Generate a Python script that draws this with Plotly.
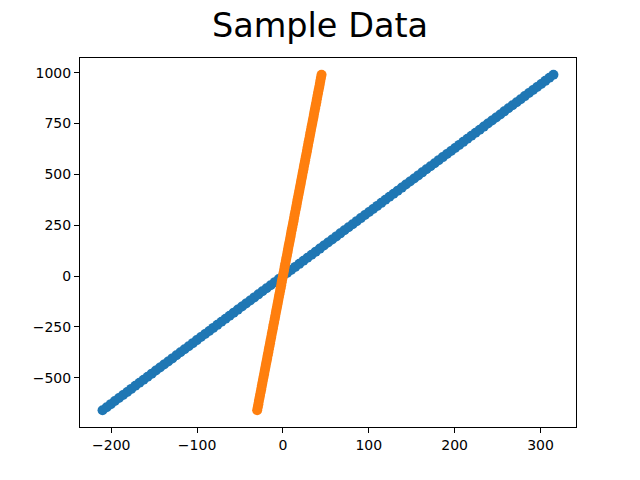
import plotly.graph_objects as go

y_values = [-660, -645, -630, -615, -600, -585, -570, -555, -540, -525, -510, -495,
            -480, -465, -450, -435, -420, -405, -390, -375, -360, -345, -330, -315,
            -300, -285, -270, -255, -240, -225, -210, -195, -180, -165, -150, -135,
            -120, -105, -90, -75, -60, -45, -30, -15, 0, 15, 30, 45, 60, 75, 90, 105,
            120, 135, 150, 165, 180, 195, 210, 225, 240, 255, 270, 285, 300, 315, 330,
            345, 360, 375, 390, 405, 420, 435, 450, 465, 480, 495, 510, 525, 540, 555,
            570, 585, 600, 615, 630, 645, 660, 675, 690, 705, 720, 735, 750, 765, 780,
            795, 810, 825, 840, 855, 870, 885, 900, 915, 930, 945, 960, 975, 990]

blue_x = [-210.1, -205.3, -200.5, -195.8, -191.0, -186.2, -181.4, -176.7, -171.9,
          -167.1, -162.3, -157.6, -152.8, -148.0, -143.2, -138.5, -133.7, -128.9,
          -124.1, -119.4, -114.6, -109.8, -105.0, -100.3, -95.5, -90.7, -85.9, -81.2,
          -76.4, -71.6, -66.8, -62.1, -57.3, -52.5, -47.7, -43.0, -38.2, -33.4, -28.6,
          -23.9, -19.1, -14.3, -9.5, -4.8, 0.0, 4.8, 9.5, 14.3, 19.1, 23.9, 28.6, 33.4,
          38.2, 43.0, 47.7, 52.5, 57.3, 62.1, 66.8, 71.6, 76.4, 81.2, 85.9, 90.7, 95.5,
          100.3, 105.0, 109.8, 114.6, 119.4, 124.1, 128.9, 133.7, 138.5, 143.2, 148.0,
          152.8, 157.6, 162.3, 167.1, 171.9, 176.7, 181.4, 186.2, 191.0, 195.8, 200.5,
          205.3, 210.1, 214.9, 219.6, 224.4, 229.2, 234.0, 238.7, 243.5, 248.3, 253.1,
          257.8, 262.6, 267.4, 272.2, 276.9, 281.7, 286.5, 291.3, 296.0, 300.8, 305.6,
          310.4, 315.1]

orange_x = [-30.0, -29.3, -28.6, -28.0, -27.3, -26.6, -25.9, -25.2, -24.5, -23.9,
            -23.2, -22.5, -21.8, -21.1, -20.5, -19.8, -19.1, -18.4, -17.7, -17.0,
            -16.4, -15.7, -15.0, -14.3, -13.6, -13.0, -12.3, -11.6, -10.9, -10.2,
            -9.5, -8.9, -8.2, -7.5, -6.8, -6.1, -5.5, -4.8, -4.1, -3.4, -2.7, -2.0,
            -1.4, -0.7, 0.0, 0.7, 1.4, 2.0, 2.7, 3.4, 4.1, 4.8, 5.5, 6.1, 6.8, 7.5,
            8.2, 8.9, 9.5, 10.2, 10.9, 11.6, 12.3, 13.0, 13.6, 14.3, 15.0, 15.7, 16.4,
            17.0, 17.7, 18.4, 19.1, 19.8, 20.5, 21.1, 21.8, 22.5, 23.2, 23.9, 24.5,
            25.2, 25.9, 26.6, 27.3, 28.0, 28.6, 29.3, 30.0, 30.7, 31.4, 32.0, 32.7,
            33.4, 34.1, 34.8, 35.5, 36.1, 36.8, 37.5, 38.2, 38.9, 39.5, 40.2, 40.9,
            41.6, 42.3, 43.0, 43.6, 44.3, 45.0]

x_ticks = [-200, -100, 0, 100, 200, 300]
y_ticks = [-500, -250, 0, 250, 500, 750, 1000]

all_x = blue_x + orange_x
xmin, xmax = min(all_x), max(all_x)
ymin, ymax = min(y_values), max(y_values)
xpad = 0.05 * (xmax - xmin)
ypad = 0.05 * (ymax - ymin)

fig = go.Figure()
fig.add_trace(go.Scatter(x=blue_x, y=y_values, mode="markers",
                         marker=dict(color="#1f77b4", size=10, line=dict(width=0)),
                         showlegend=False, hoverinfo="skip"))
fig.add_trace(go.Scatter(x=orange_x, y=y_values, mode="markers",
                         marker=dict(color="#ff7f0e", size=10, line=dict(width=0)),
                         showlegend=False, hoverinfo="skip"))

axis_common = dict(showgrid=False, zeroline=False, showline=True, linecolor="black",
                   linewidth=1, mirror=True, ticks="outside", ticklen=5, tickwidth=1,
                   tickcolor="black", tickfont=dict(family="DejaVu Sans", size=14, color="black"))

fig.update_xaxes(range=[xmin - xpad, xmax + xpad], tickvals=x_ticks,
                 ticktext=[str(v).replace("-", "\u2212") for v in x_ticks], **axis_common)
fig.update_yaxes(range=[ymin - ypad, ymax + ypad], tickvals=y_ticks,
                 ticktext=[str(v).replace("-", "\u2212") for v in y_ticks], **axis_common)

fig.update_layout(
    width=640, height=480,
    margin=dict(l=80, r=64, t=58, b=53),
    paper_bgcolor="white", plot_bgcolor="white",
    hovermode=False,
    title=dict(text="Sample Data", x=0.5, xref="container", y=1 - 25 / 480,
               yref="container", yanchor="middle", xanchor="center",
               font=dict(family="DejaVu Sans", size=33.5, color="black")),
)

# remove the page's default 8px body margin so the figure fills the window exactly
fig.write_html("out.html",
               config={"displayModeBar": False, "staticPlot": True},
               post_script="document.body.style.margin='0';document.body.style.overflow='hidden';")
